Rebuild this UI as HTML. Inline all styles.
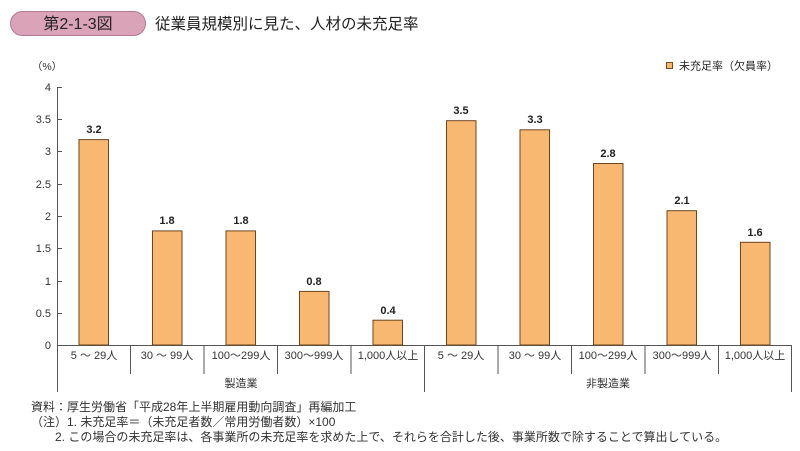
<!DOCTYPE html>
<html><head><meta charset="utf-8"><style>
body{margin:0;background:#fff;}
svg{display:block;font-family:"Liberation Sans","Noto Sans CJK JP",sans-serif;}
</style></head><body>
<svg width="800" height="451" viewBox="0 0 800 451" xmlns="http://www.w3.org/2000/svg">
<rect x="10.5" y="11.5" width="135" height="24" rx="12" fill="#dba3b8" stroke="#b07a92"/>
<text x="78" y="29" font-size="16" text-anchor="middle" fill="#222">第2-1-3図</text>
<text x="155" y="29" font-size="15.5" fill="#222">従業員規模別に見た、人材の未充足率</text>
<text x="47" y="70" font-size="10.5" text-anchor="middle" fill="#333">（%）</text>
<rect x="666.5" y="62.5" width="6" height="6" fill="#f9b872" stroke="#7a4a20"/>
<text x="679" y="69.5" font-size="11" fill="#222">未充足率（欠員率）</text>
<g stroke="#555" stroke-width="1" fill="none">
<line x1="57.5" y1="87" x2="57.5" y2="392"/>
<line x1="57" y1="345.5" x2="792" y2="345.5"/>
<line x1="57" y1="87.5" x2="62" y2="87.5"/><line x1="57" y1="119.5" x2="62" y2="119.5"/>
<line x1="57" y1="151.5" x2="62" y2="151.5"/><line x1="57" y1="184.5" x2="62" y2="184.5"/>
<line x1="57" y1="216.5" x2="62" y2="216.5"/><line x1="57" y1="248.5" x2="62" y2="248.5"/>
<line x1="57" y1="281.5" x2="62" y2="281.5"/><line x1="57" y1="313.5" x2="62" y2="313.5"/>
<line x1="130.5" y1="345" x2="130.5" y2="374"/><line x1="204" y1="345" x2="204" y2="374"/>
<line x1="277.5" y1="345" x2="277.5" y2="374"/><line x1="351" y1="345" x2="351" y2="374"/>
<line x1="424.5" y1="345" x2="424.5" y2="392"/>
<line x1="498" y1="345" x2="498" y2="374"/><line x1="571.5" y1="345" x2="571.5" y2="374"/>
<line x1="645" y1="345" x2="645" y2="374"/><line x1="718.5" y1="345" x2="718.5" y2="374"/>
<line x1="791.5" y1="345" x2="791.5" y2="392"/>
</g>
<g font-size="11" fill="#333" text-anchor="end">
<text x="51" y="91">4</text><text x="51" y="123">3.5</text><text x="51" y="155">3</text>
<text x="51" y="188">2.5</text><text x="51" y="220">2</text><text x="51" y="252">1.5</text>
<text x="51" y="285">1</text><text x="51" y="317">0.5</text><text x="51" y="349">0</text>
</g>
<g fill="#f9b872" stroke="#6b4520" stroke-width="1">
<rect x="79" y="139.6" width="29.5" height="205.4"/>
<rect x="152.5" y="230.9" width="29.5" height="114.1"/>
<rect x="226" y="230.9" width="29.5" height="114.1"/>
<rect x="299.5" y="291.4" width="29.5" height="53.6"/>
<rect x="373" y="320.2" width="29.5" height="24.8"/>
<rect x="446.5" y="120.7" width="29.5" height="224.3"/>
<rect x="520" y="129.8" width="29.5" height="215.2"/>
<rect x="593.5" y="163.5" width="29.5" height="181.5"/>
<rect x="667" y="210.7" width="29.5" height="134.3"/>
<rect x="740.5" y="242.3" width="29.5" height="102.7"/>
</g>
<g font-size="11" fill="#222" text-anchor="middle" font-weight="bold">
<text x="94" y="133">3.2</text><text x="167" y="224">1.8</text><text x="241" y="224">1.8</text>
<text x="314" y="285">0.8</text><text x="388" y="314">0.4</text><text x="461" y="114">3.5</text>
<text x="535" y="123">3.3</text><text x="608" y="157">2.8</text><text x="682" y="204">2.1</text>
<text x="755" y="236">1.6</text>
</g>
<g font-size="11" fill="#333" text-anchor="middle">
<text x="94" y="359">5 ～ 29人</text><text x="167" y="359">30 ～ 99人</text>
<text x="241" y="359">100～299人</text><text x="314" y="359">300～999人</text>
<text x="388" y="359">1,000人以上</text><text x="461" y="359">5 ～ 29人</text>
<text x="535" y="359">30 ～ 99人</text><text x="608" y="359">100～299人</text>
<text x="682" y="359">300～999人</text><text x="755" y="359">1,000人以上</text>
<text x="241" y="387">製造業</text><text x="608" y="387">非製造業</text>
</g>
<g font-size="12" fill="#333">
<text x="31" y="411">資料：厚生労働省「平成28年上半期雇用動向調査」再編加工</text>
<text x="31" y="426">（注）1. 未充足率＝（未充足者数／常用労働者数）×100</text>
<text x="55" y="441">2. この場合の未充足率は、各事業所の未充足率を求めた上で、それらを合計した後、事業所数で除することで算出している。</text>
</g>
</svg>
</body></html>
